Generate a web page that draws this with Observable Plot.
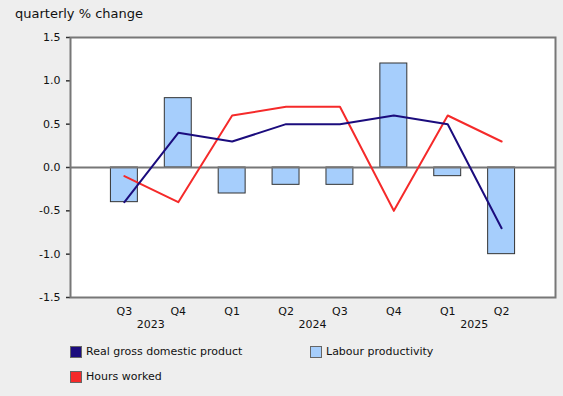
<!DOCTYPE html>
<html>
<head>
<meta charset="utf-8">
<script src="https://cdn.jsdelivr.net/npm/d3@7"></script>
<script src="https://cdn.jsdelivr.net/npm/@observablehq/plot@0.6"></script>
<style>
  html, body { margin: 0; padding: 0; background: #eeeeee; }
  body { width: 563px; height: 396px; overflow: hidden; font-family: "DejaVu Sans", Verdana, sans-serif; color: #111; }
  #title { height: 28px; font-size: 13px; line-height: 28px; padding-left: 15px; }
  #legend { position: relative; height: 53px; font-size: 11px; }
  .item { position: absolute; display: flex; align-items: center; }
  .sw { width: 10px; height: 10px; border: 1px solid #666; margin-right: 4px; }
</style>
</head>
<body>
<div id="title">quarterly % change</div>
<div id="chart"></div>
<div id="legend"></div>
<script>
const quarters = ["Q3 2023","Q4 2023","Q1 2024","Q2 2024","Q3 2024","Q4 2024","Q1 2025","Q2 2025"];
const gdp = [-0.4, 0.4, 0.3, 0.5, 0.5, 0.6, 0.5, -0.7];
const hours = [-0.1, -0.4, 0.6, 0.7, 0.7, -0.5, 0.6, 0.3];
const productivity = [-0.4, 0.8, -0.3, -0.2, -0.2, 1.2, -0.1, -1.0];
const yTicks = [-1.5, -1.0, -0.5, 0.0, 0.5, 1.0, 1.5];
const years = [
  {label: "2023", from: "Q3 2023", to: "Q4 2023"},
  {label: "2024", from: "Q1 2024", to: "Q4 2024"},
  {label: "2025", from: "Q1 2025", to: "Q2 2025"}
];
const seriesNames = ["Real gross domestic product", "Labour productivity", "Hours worked"];
const colors = {gdp: "#1b0c7d", hours: "#f52a2a", prod: "#a6cefc"};

const rows = quarters.map((q, i) => ({q, gdp: gdp[i], hours: hours[i], prod: productivity[i]}));

const chart = Plot.plot({
  width: 563,
  height: 315,
  marginLeft: 70,
  marginRight: 8,
  marginTop: 9,
  marginBottom: 46,
  style: {fontFamily: "'DejaVu Sans', Verdana, sans-serif", fontSize: "11px", background: "transparent", color: "#111"},
  x: {type: "band", domain: quarters, paddingInner: 0.5, paddingOuter: 0.75, round: false, label: null},
  y: {domain: [-1.5, 1.5], label: null},
  marks: [
    Plot.axisY({ticks: yTicks, tickFormat: d => d.toFixed(1), tickSize: 4, tickPadding: 6, stroke: "#333", strokeWidth: 1.5, label: null}),
    Plot.axisX({tickSize: 0, tickPadding: 10, tickFormat: d => d.split(" ")[0], label: null}),
    Plot.barY(rows, {x: "q", y: "prod", fill: colors.prod, stroke: "#333", strokeWidth: 1}),
    Plot.ruleY([0], {stroke: "#777", strokeWidth: 2}),
    Plot.lineY(rows, {x: "q", y: "hours", stroke: colors.hours, strokeWidth: 2}),
    Plot.lineY(rows, {x: "q", y: "gdp", stroke: colors.gdp, strokeWidth: 2}),
    Plot.frame({stroke: "#777", strokeWidth: 2})
  ]
});
document.getElementById("chart").appendChild(chart);

const xs = chart.scale("x");
const ys = chart.scale("y");
const svg = d3.select(chart);

// white plotting area behind all marks, sized from the chart's own scales
const [x0, x1] = xs.range;
const [yA, yB] = ys.range;
svg.insert("rect", ":first-child")
  .attr("x", Math.min(x0, x1)).attr("width", Math.abs(x1 - x0))
  .attr("y", Math.min(yA, yB)).attr("height", Math.abs(yB - yA))
  .attr("fill", "#ffffff");

// year labels, positioned with the chart's own x scale
const yBottom = Math.max(yA, yB);
for (const yr of years) {
  const cx = (xs.apply(yr.from) + xs.apply(yr.to)) / 2 + xs.bandwidth / 2;
  svg.append("text")
    .attr("x", cx)
    .attr("y", yBottom + 31)
    .attr("text-anchor", "middle")
    .attr("fill", "#111")
    .style("font-size", "11px")
    .text(yr.label);
}

// legend
const legend = document.getElementById("legend");
const items = [
  {name: seriesNames[0], color: colors.gdp, left: 70, top: 2},
  {name: seriesNames[1], color: colors.prod, left: 310, top: 2},
  {name: seriesNames[2], color: colors.hours, left: 70, top: 27}
];
for (const it of items) {
  const d = document.createElement("div");
  d.className = "item";
  d.style.left = it.left + "px";
  d.style.top = it.top + "px";
  const s = document.createElement("div");
  s.className = "sw";
  s.style.background = it.color;
  const t = document.createElement("span");
  t.textContent = it.name;
  d.appendChild(s); d.appendChild(t);
  legend.appendChild(d);
}
</script>
</body>
</html>
